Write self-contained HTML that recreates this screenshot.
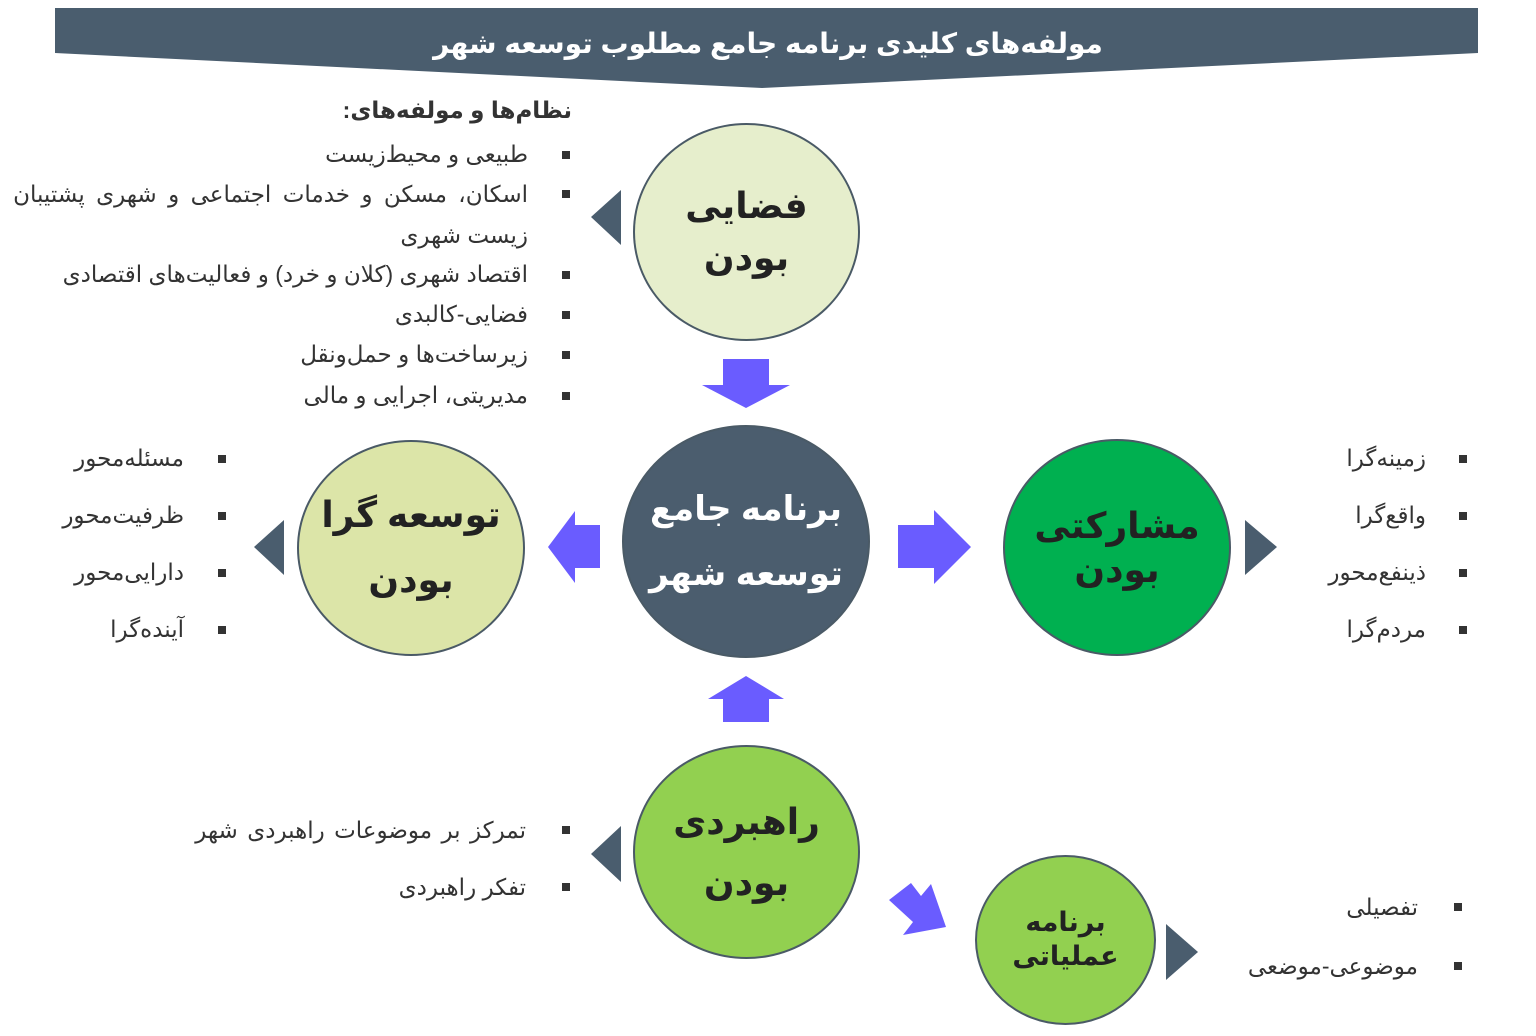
<!DOCTYPE html>
<html><head><meta charset="utf-8">
<style>
html,body{margin:0;padding:0;background:#fff;}
body{width:1536px;height:1036px;position:relative;overflow:hidden;font-family:"Liberation Sans","DejaVu Sans",sans-serif;}
.t{position:absolute;direction:rtl;text-align:right;color:#333;font-size:23px;white-space:nowrap;}
.c{position:absolute;border-radius:50%;border:2.5px solid #4a5a66;box-sizing:border-box;display:flex;align-items:center;justify-content:center;text-align:center;direction:rtl;font-weight:bold;color:#222;line-height:1.45;}
.b{position:absolute;width:8px;height:8px;background:#333;}
</style></head><body>
<svg width="1536" height="1036" style="position:absolute;left:0;top:0">
<polygon points="55,8 1478,8 1478,53 762,88 55,53" fill="#4a5d6e"/>
<polygon points="621,190 621,245 591,217" fill="#4a5d6e"/>
<polygon points="284,520 284,575 254,547" fill="#4a5d6e"/>
<polygon points="1245,520 1245,575 1277,547" fill="#4a5d6e"/>
<polygon points="621,826 621,882 591,854" fill="#4a5d6e"/>
<polygon points="1166,924 1166,980 1198,952" fill="#4a5d6e"/>
<polygon points="723,359 769,359 769,385 790,385 746,408 702,385 723,385" fill="#6a5cff"/>
<polygon points="723,722 769,722 769,699 784,699 746,676 708,699 723,699" fill="#6a5cff"/>
<polygon points="600,525 600,568 575,568 575,583 548,547 575,511 575,525" fill="#6a5cff"/>
<polygon points="898,525 934,525 934,510 971,547 934,584 934,568 898,568" fill="#6a5cff"/>
<polygon points="889,900 911,883 921,896 931,884 946,927 903,935 913,922" fill="#6a5cff"/>
</svg>
<div class="t" style="left:0;width:1536px;top:27px;text-align:center;color:#fff;font-weight:bold;font-size:28px;">مولفه‌های کلیدی برنامه جامع مطلوب توسعه شهر</div>

<div class="c" style="left:633px;top:123px;width:227px;height:218px;background:#e6eecc;font-size:36px;">فضایی<br>بودن</div>
<div class="c" style="left:622px;top:425px;width:248px;height:233px;background:#4b5d6e;color:#fff;font-size:34px;line-height:1.9;">برنامه جامع<br>توسعه شهر</div>
<div class="c" style="left:297px;top:440px;width:228px;height:216px;background:#dce5a8;font-size:36px;line-height:1.8;">توسعه گرا<br>بودن</div>
<div class="c" style="left:1003px;top:439px;width:228px;height:217px;background:#00b050;font-size:36px;line-height:1.2;">مشارکتی<br>بودن</div>
<div class="c" style="left:633px;top:745px;width:227px;height:214px;background:#92d050;font-size:36px;line-height:1.7;">راهبردی<br>بودن</div>
<div class="c" style="left:975px;top:855px;width:181px;height:170px;background:#92d050;font-size:27px;line-height:1.25;">برنامه<br>عملیاتی</div>

<div class="t" style="right:964px;top:97px;font-weight:bold;font-size:23px;">نظام‌ها و مولفه‌های:</div>
<div class="t" style="right:1008px;top:141px;">طبیعی و محیط‌زیست</div>
<div class="t" style="right:1008px;top:181px;word-spacing:5px;">اسکان، مسکن و خدمات اجتماعی و شهری پشتیبان</div>
<div class="t" style="right:1008px;top:222px;">زیست شهری</div>
<div class="t" style="right:1008px;top:261px;">اقتصاد شهری (کلان و خرد) و فعالیت‌های اقتصادی</div>
<div class="t" style="right:1008px;top:301px;">فضایی-کالبدی</div>
<div class="t" style="right:1008px;top:341px;">زیرساخت‌ها و حمل‌ونقل</div>
<div class="t" style="right:1008px;top:382px;">مدیریتی، اجرایی و مالی</div>
<div class="b" style="left:562px;top:151px"></div><div class="b" style="left:562px;top:190px"></div>
<div class="b" style="left:562px;top:271px"></div><div class="b" style="left:562px;top:311px"></div>
<div class="b" style="left:562px;top:351px"></div><div class="b" style="left:562px;top:392px"></div>

<div class="t" style="right:1352px;top:445px;">مسئله‌محور</div>
<div class="t" style="right:1352px;top:502px;">ظرفیت‌محور</div>
<div class="t" style="right:1352px;top:559px;">دارایی‌محور</div>
<div class="t" style="right:1352px;top:616px;">آینده‌گرا</div>
<div class="b" style="left:218px;top:455px"></div><div class="b" style="left:218px;top:512px"></div>
<div class="b" style="left:218px;top:569px"></div><div class="b" style="left:218px;top:626px"></div>

<div class="t" style="right:110px;top:445px;">زمینه‌گرا</div>
<div class="t" style="right:110px;top:502px;">واقع‌گرا</div>
<div class="t" style="right:110px;top:559px;">ذینفع‌محور</div>
<div class="t" style="right:110px;top:616px;">مردم‌گرا</div>
<div class="b" style="left:1459px;top:455px"></div><div class="b" style="left:1459px;top:512px"></div>
<div class="b" style="left:1459px;top:569px"></div><div class="b" style="left:1459px;top:626px"></div>

<div class="t" style="right:1010px;top:817px;word-spacing:3px;">تمرکز بر موضوعات راهبردی شهر</div>
<div class="t" style="right:1010px;top:874px;">تفکر راهبردی</div>
<div class="b" style="left:562px;top:826px"></div><div class="b" style="left:562px;top:883px"></div>

<div class="t" style="right:118px;top:894px;">تفصیلی</div>
<div class="t" style="right:118px;top:953px;">موضوعی-موضعی</div>
<div class="b" style="left:1454px;top:903px"></div><div class="b" style="left:1454px;top:962px"></div>
</body></html>
